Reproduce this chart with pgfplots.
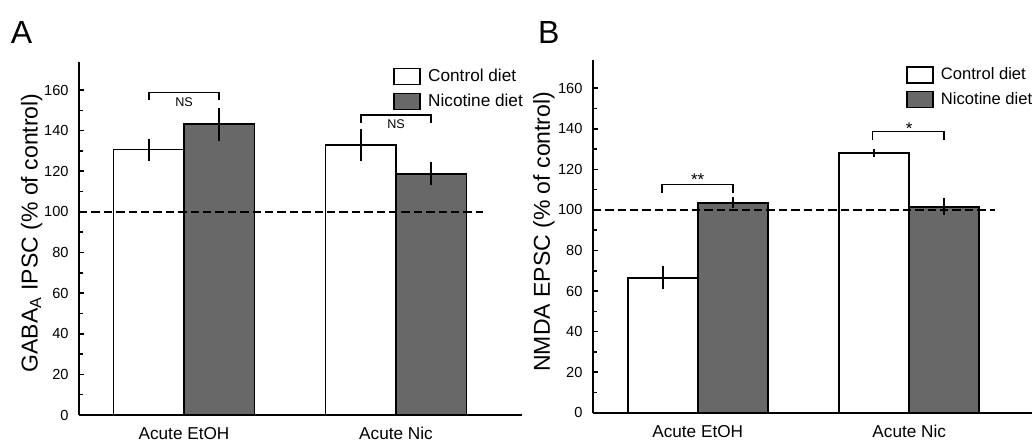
\documentclass[border=0pt]{standalone}
\usepackage{fontspec}
\setmainfont{Liberation Sans}
\usepackage{pgfplots}
\pgfplotsset{compat=1.18}
\definecolor{bargray}{RGB}{104,104,104}
\pgfplotsset{
  panel/.style={
    scale only axis, anchor=south west,
    axis x line=bottom, axis y line=left,
    axis line style={-, line width=0.9pt},
    ymin=0, ymax=174,
    ytick={0,20,...,160}, minor y tick num=1,
    tick align=inside, major tick length=2.5pt, minor tick length=2pt,
    tick style={black, line width=0.8pt},
    xtick={0,1}, xticklabels={Acute EtOH, Acute Nic},
    xtick style={draw=none},
    /pgf/number format/assume math mode=true,
    yticklabel style={font=\fontsize{7.3}{8}\selectfont, inner sep=0pt, anchor=east, xshift=-5pt},
    xticklabel style={font=\fontsize{8.6}{10}\selectfont, inner sep=0pt, anchor=base, yshift=-12.3pt},
    ylabel style={font=\fontsize{11.5}{13}\selectfont, anchor=center},
    legend cell align=left,
    legend style={draw=none, fill=none, inner sep=0pt, row sep=0pt, font=\fontsize{8.6}{10}\selectfont, nodes={inner sep=0pt}},
  },
  bar/.style={ybar, bar width=#1, bar shift=0pt, draw=black, line width=0.9pt,
    error bars/y dir=both, error bars/y explicit, error bars/error mark=none,
    error bars/error bar style={line width=0.9pt, black}},
  legimg/.style={legend image code/.code={\draw[##1, line width=0.8pt] (0pt,-4pt) rectangle (13pt,4pt); \path[draw=none, fill=none] (0pt,-6.2pt) rectangle (17pt,6.2pt);}},
  refline/.style={black, line width=0.75pt, dash pattern=on 4.2pt off 2pt, forget plot},
}
\begin{document}
\begin{tikzpicture}
\path[use as bounding box] (0,0) rectangle (516.5pt,220.5pt);
% Panel A
\begin{axis}[panel, at={(39.5pt,13pt)}, width=221.5pt, height=176.7pt,
  xmin=-0.4953, xmax=1.5943,
  ylabel={GABA\textsubscript{A} IPSC (\% of control)},
  ylabel style={at={(axis description cs:-0.1068,0.515)}},
  legend style={at={(rel axis cs:0.7088,0.994)}, anchor=north west}]
\addplot[bar=0.3325, fill=white, legimg]
  coordinates {(-0.16625,130.7) +- (0,5.4) (0.83375,133.0) +- (0,7.7)};
\addlegendentry{Control diet}
\addplot[bar=0.3325, fill=bargray, legimg]
  coordinates {(0.16625,143.2) +- (0,8.1) (1.16625,118.8) +- (0,5.6)};
\addlegendentry{Nicotine diet}
\addplot[refline] coordinates {(-0.4953,100) (1.41,100)};
\draw[line width=0.8pt] (axis cs:-0.166,155) -- (axis cs:-0.166,158.7) -- (axis cs:0.166,158.7) -- (axis cs:0.166,155);
\draw[line width=0.8pt] (axis cs:0.834,144) -- (axis cs:0.834,147.8) -- (axis cs:1.166,147.8) -- (axis cs:1.166,144);
\node[font=\fontsize{6.3}{7}\selectfont, inner sep=0pt] at (axis cs:0,154) {NS};
\node[font=\fontsize{6.3}{7}\selectfont, inner sep=0pt] at (axis cs:1,143) {NS};
\end{axis}
% Panel B
\begin{axis}[panel, at={(296.4pt,14.15pt)}, width=219.6pt, height=176.4pt,
  xmin=-0.4957, xmax=1.5799,
  ylabel={NMDA EPSC (\% of control)},
  ylabel style={at={(axis description cs:-0.1111,0.513)}},
  legend style={at={(rel axis cs:0.7125,0.994)}, anchor=north west, font=\fontsize{8.3}{10}\selectfont}]
\addplot[bar=0.3308, fill=white, legimg]
  coordinates {(-0.1654,66.6) +- (0,5.7) (0.8346,128.2) +- (0,1.9)};
\addlegendentry{Control diet}
\addplot[bar=0.3308, fill=bargray, legimg]
  coordinates {(0.1654,103.6) +- (0,2.8) (1.1654,101.6) +- (0,4.3)};
\addlegendentry{Nicotine diet}
\addplot[refline] coordinates {(-0.4957,100) (1.405,100)};
\draw[line width=0.8pt] (axis cs:-0.170,108.2) -- (axis cs:-0.170,112.6) -- (axis cs:0.168,112.6) -- (axis cs:0.168,108.2);
\draw[line width=0.8pt] (axis cs:0.827,134.5) -- (axis cs:0.827,138.6) -- (axis cs:1.165,138.6) -- (axis cs:1.165,134.5);
\node[font=\fontsize{8.5}{9}\selectfont, inner sep=0pt, anchor=base] at (axis cs:0,112.2) {**};
\node[font=\fontsize{8.5}{9}\selectfont, inner sep=0pt, anchor=base] at (axis cs:1,137.0) {*};
\end{axis}
\node[font=\fontsize{16}{18}\selectfont, inner sep=0pt, anchor=base west] at (5.2pt,199pt) {A};
\node[font=\fontsize{16}{18}\selectfont, inner sep=0pt, anchor=base west] at (268.8pt,199pt) {B};
\end{tikzpicture}
\end{document}
